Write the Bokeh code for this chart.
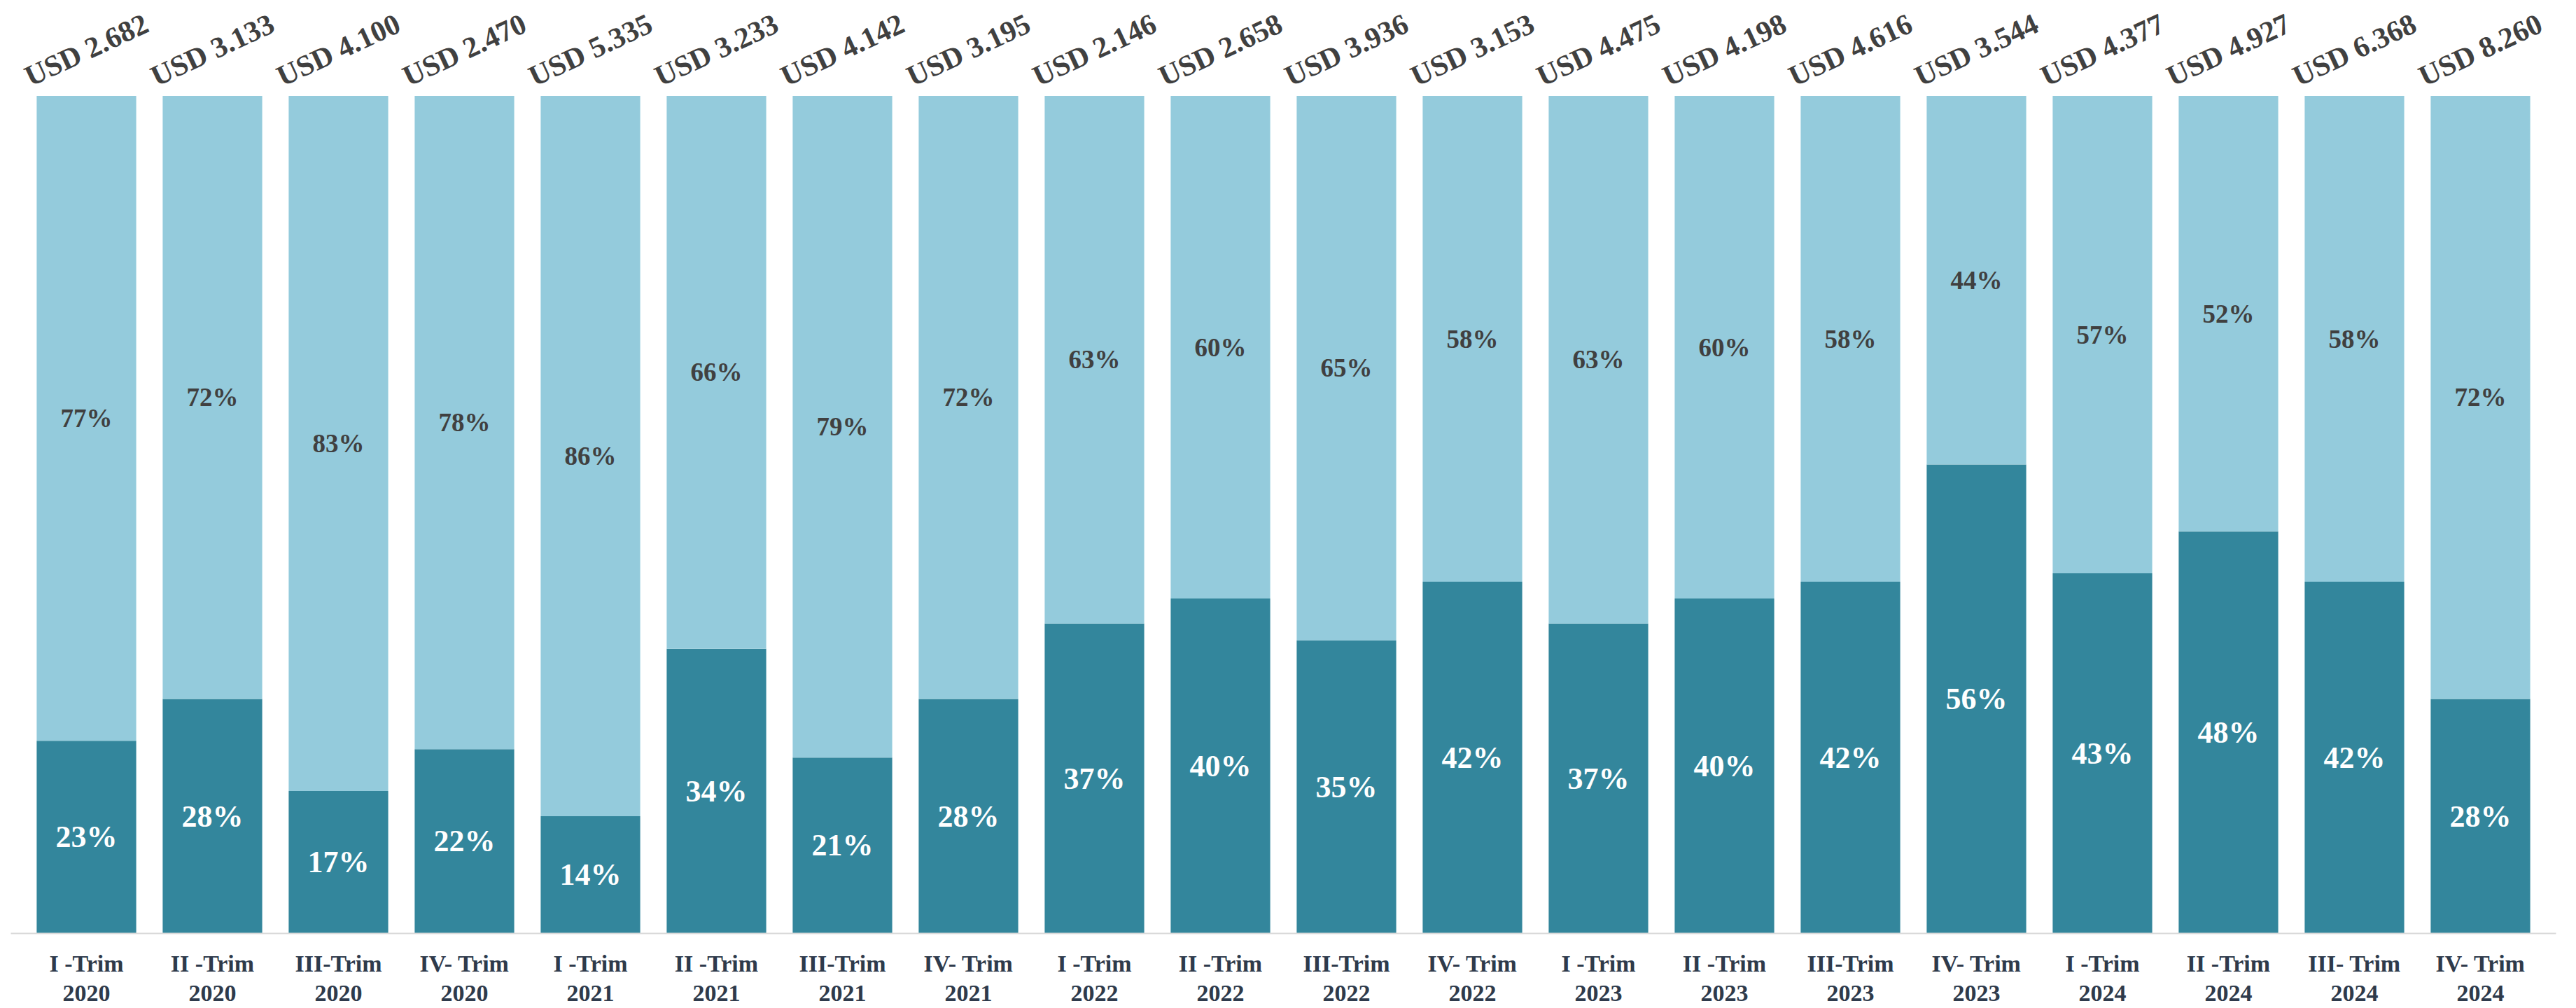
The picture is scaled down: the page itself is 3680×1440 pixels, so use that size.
from bokeh.plotting import figure
from bokeh.models import ColumnDataSource, Range1d, FactorRange
from bokeh.core.properties import value
from bokeh.embed import file_html
from bokeh.resources import INLINE

quarters = ["I -Trim\n2020", "II -Trim\n2020", "III-Trim\n2020", "IV- Trim\n2020",
            "I -Trim\n2021", "II -Trim\n2021", "III-Trim\n2021", "IV- Trim\n2021",
            "I -Trim\n2022", "II -Trim\n2022", "III-Trim\n2022", "IV- Trim\n2022",
            "I -Trim\n2023", "II -Trim\n2023", "III-Trim\n2023", "IV- Trim\n2023",
            "I -Trim\n2024", "II -Trim\n2024", "III- Trim\n2024", "IV- Trim\n2024"]
dark_pct = [23, 28, 17, 22, 14, 34, 21, 28, 37, 40, 35, 42, 37, 40, 42, 56, 43, 48, 42, 28]
light_pct = [77, 72, 83, 78, 86, 66, 79, 72, 63, 60, 65, 58, 63, 60, 58, 44, 57, 52, 58, 72]
totals_usd = [2.682, 3.133, 4.100, 2.470, 5.335, 3.233, 4.142, 3.195, 2.146, 2.658,
              3.936, 3.153, 4.475, 4.198, 4.616, 3.544, 4.377, 4.927, 6.368, 8.260]

FONT = "Liberation Serif"
LIGHT = "#94CBDC"
DARK = "#33869C"

d = [v / 100 for v in dark_pct]
l = [v / 100 for v in light_pct]
src = ColumnDataSource(dict(
    q=quarters,
    d=d,
    top=[a + b for a, b in zip(d, l)],
    dmid=[a / 2 for a in d],
    lmid=[a + b / 2 for a, b in zip(d, l)],
    dlab=[f"{v}%" for v in dark_pct],
    llab=[f"{v}%" for v in light_pct],
    tlab=[f"USD {v:.3f}" for v in totals_usd],
    ty=[1.055] * len(quarters),
))

p = figure(width=3680, height=1440,
           x_range=FactorRange(*quarters, range_padding=0.1, range_padding_units="absolute"),
           y_range=Range1d(0, 1 + 137 / 1200),
           output_backend="svg", toolbar_location=None,
           min_border_left=15, min_border_right=29, min_border_top=0, min_border_bottom=103)
p.outline_line_color = None
p.grid.visible = False
p.yaxis.visible = False
p.background_fill_color = "white"
p.border_fill_color = "white"

p.vbar(x="q", bottom=0, top="d", width=0.79, color=DARK, line_color=None, source=src)
p.vbar(x="q", bottom="d", top="top", width=0.79, color=LIGHT, line_color=None, source=src)

p.text(x="q", y="dmid", text="dlab", source=src, text_align="center", text_baseline="middle",
       text_color="white", text_font=value(FONT), text_font_style="bold", text_font_size="44px")
p.text(x="q", y="lmid", text="llab", source=src, text_align="center", text_baseline="middle",
       text_color="#404040", text_font=value(FONT), text_font_style="bold", text_font_size="37px")
p.text(x="q", y="ty", text="tlab", source=src, text_align="center",
       text_baseline="middle", angle=25, angle_units="deg",
       text_color="#404040", text_font=value(FONT), text_font_style="bold",
       text_font_size="42px")

ax = p.xaxis[0]
ax.axis_line_color = "#D9D9D9"
ax.axis_line_width = 2
ax.major_tick_line_color = None
ax.minor_tick_line_color = None
ax.major_label_standoff = 18
ax.major_label_text_font = FONT
ax.major_label_text_font_style = "bold"
ax.major_label_text_font_size = "34px"
ax.major_label_text_color = "#2E3A4B"
ax.major_label_text_line_height = 1.15

open("out.html", "w").write(file_html(p, INLINE))
